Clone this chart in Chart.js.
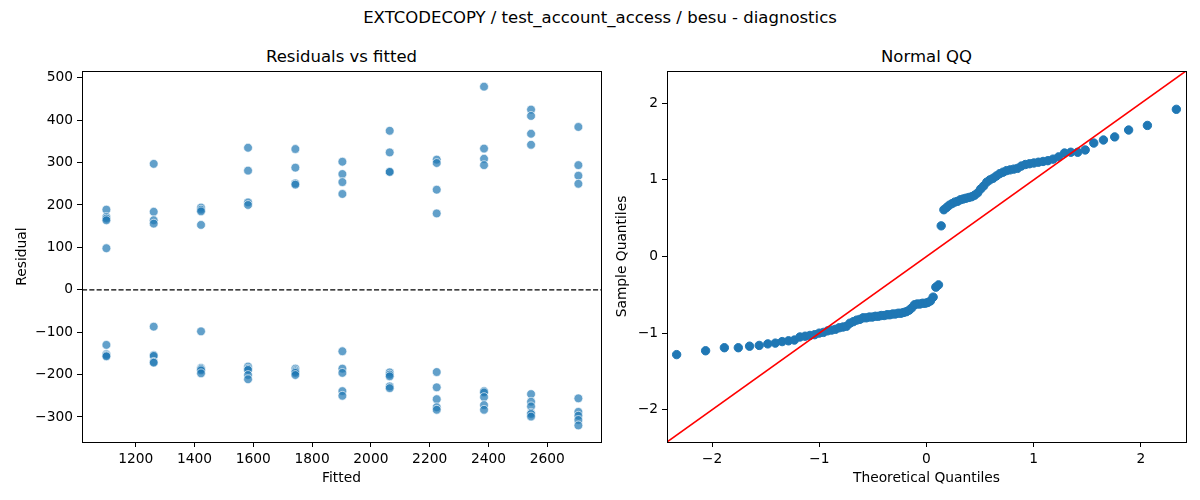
<!DOCTYPE html>
<html>
<head>
<meta charset="utf-8">
<script src="https://cdn.jsdelivr.net/npm/chart.js@4.4.1/dist/chart.umd.min.js"></script>
<style>
  html, body { margin: 0; padding: 0; background: #fff; }
  body { width: 1200px; height: 500px; position: relative; overflow: hidden; font-family: "DejaVu Sans", sans-serif; }
  .box { position: absolute; }
  .ttl { position: absolute; text-align: center; color: #000; white-space: nowrap; line-height: 20px; }
</style>
</head>
<body>
<div class="ttl" id="suptitle" style="left:0; width:1200px; top:8px; font-size:16.5px;"></div>
<div class="ttl" id="title1" style="left:82px; width:519px; top:47px; font-size:16.5px;"></div>
<div class="ttl" id="title2" style="left:667px; width:519px; top:47px; font-size:16.5px;"></div>
<div class="box" style="left:0; top:0; width:610px; height:500px;"><canvas id="c1"></canvas></div>
<div class="box" style="left:610px; top:0; width:590px; height:500px;"><canvas id="c2"></canvas></div>
<script>
// ---------- data ----------
const figureTitle = "EXTCODECOPY / test_account_access / besu - diagnostics";
const leftTitle = "Residuals vs fitted";
const rightTitle = "Normal QQ";

const fittedLevels = [1100, 1261, 1422, 1582, 1743, 1903, 2064, 2224, 2385, 2545, 2706];
const residualsByLevel = [
  [189, 172, 168, 164, 98, -130, -152, -155, -157],
  [297, 184, 164, 156, -87, -154, -156, -170, -172],
  [194, 189, 185, 153, -98, -184, -187, -190, -197],
  [335, 281, 206, 200, -181, -186, -189, -201, -211],
  [332, 288, 251, 248, -186, -190, -193, -196, -201],
  [302, 273, 254, 226, -145, -186, -196, -239, -250],
  [375, 324, 278, 278, -195, -200, -204, -228, -232],
  [307, 299, 236, 180, -194, -230, -258, -277, -283],
  [479, 333, 309, 294, -239, -242, -253, -272, -283],
  [425, 410, 368, 342, -246, -264, -275, -290, -293, -299],
  [384, 294, 269, 250, -256, -288, -297, -307, -320]
];
const fittedTicks = [1200, 1400, 1600, 1800, 2000, 2200, 2400, 2600];
const residualTicks = [-300, -200, -100, 0, 100, 200, 300, 400, 500];

const theoreticalQuantiles = [
  -2.33, -2.06, -1.885, -1.755, -1.65, -1.56, -1.48, -1.41, -1.346, -1.287,
  -1.232, -1.18, -1.132, -1.087, -1.043, -1.001, -0.961, -0.922, -0.885, -0.849,
  -0.814, -0.779, -0.746, -0.714, -0.682, -0.651, -0.621, -0.591, -0.562, -0.533,
  -0.505, -0.477, -0.449, -0.422, -0.395, -0.368, -0.342, -0.316, -0.290, -0.264,
  -0.238, -0.213, -0.188, -0.162, -0.137, -0.112, -0.087, -0.062, -0.037, -0.012,
  0.012, 0.037, 0.062, 0.087, 0.112, 0.137, 0.162, 0.188, 0.213, 0.238,
  0.264, 0.290, 0.316, 0.342, 0.368, 0.395, 0.422, 0.449, 0.477, 0.505,
  0.533, 0.562, 0.591, 0.621, 0.651, 0.682, 0.714, 0.746, 0.779, 0.814,
  0.849, 0.885, 0.922, 0.961, 1.001, 1.043, 1.087, 1.132, 1.18, 1.232,
  1.287, 1.346, 1.41, 1.48, 1.56, 1.65, 1.755, 1.885, 2.06, 2.33
];
const sampleQuantiles = [
  -1.28, -1.23, -1.19, -1.19, -1.17, -1.16, -1.14, -1.13, -1.11, -1.10,
  -1.09, -1.05, -1.04, -1.03, -1.02, -1.00, -0.99, -0.97, -0.96, -0.95,
  -0.93, -0.92, -0.91, -0.87, -0.85, -0.83, -0.82, -0.80, -0.80, -0.79,
  -0.79, -0.78, -0.78, -0.77, -0.77, -0.76, -0.76, -0.75, -0.75, -0.74,
  -0.74, -0.73, -0.72, -0.70, -0.67, -0.63, -0.62, -0.62, -0.61, -0.61,
  -0.60, -0.58, -0.53, -0.40, -0.37, 0.40, 0.61, 0.64, 0.67, 0.69,
  0.71, 0.72, 0.74, 0.75, 0.76, 0.77, 0.78, 0.80, 0.83, 0.88,
  0.92, 0.97, 1.00, 1.02, 1.05, 1.08, 1.10, 1.12, 1.13, 1.14,
  1.15, 1.18, 1.20, 1.21, 1.22, 1.23, 1.24, 1.25, 1.27, 1.30,
  1.35, 1.36, 1.36, 1.39, 1.48, 1.52, 1.56, 1.65, 1.71, 1.92
];
const qqLimits = [-2.42, 2.42];
const qqTicks = [-2, -1, 0, 1, 2];

// ---------- rendering ----------
document.getElementById('suptitle').textContent = figureTitle;
document.getElementById('title1').textContent = leftTitle;
document.getElementById('title2').textContent = rightTitle;

const FONT = "'DejaVu Sans', sans-serif";
Chart.defaults.font.family = FONT;
Chart.defaults.color = '#000';

const framePlugin = {
  id: 'frame',
  afterDatasetsDraw(chart, args, opts) {
    const { ctx, chartArea: a } = chart;
    ctx.save();
    if (opts.zeroLine) {
      const y = chart.scales.y.getPixelForValue(0);
      ctx.strokeStyle = '#000';
      ctx.lineWidth = 1.2;
      ctx.setLineDash([5.1, 2.2]);
      ctx.beginPath();
      ctx.moveTo(a.left, y);
      ctx.lineTo(a.right, y);
      ctx.stroke();
      ctx.setLineDash([]);
    }
    ctx.strokeStyle = '#000';
    ctx.lineWidth = 1;
    ctx.strokeRect(Math.round(a.left) + 0.5, Math.round(a.top) + 0.5,
                   Math.round(a.right - a.left), Math.round(a.bottom - a.top));
    ctx.restore();
  }
};

function axisCommon(tickValues, fixedSize, isX, titleText, titlePad) {
  return {
    type: 'linear',
    position: isX ? 'bottom' : 'left',
    afterBuildTicks: (s) => { s.ticks = tickValues.map(v => ({ value: v })); },
    afterFit: (s) => { if (isX) s.height = fixedSize; else s.width = fixedSize; },
    grid: { display: true, drawOnChartArea: false, drawTicks: true, tickLength: 5, tickColor: '#000', lineWidth: 1 },
    border: { display: false },
    ticks: {
      padding: 4, color: '#000', font: { size: 13.8, family: FONT },
      maxRotation: 0, autoSkip: false, includeBounds: false,
      callback: (v) => (v < 0 ? '\u2212' + Math.abs(v) : String(v))
    },
    title: {
      display: true, text: titleText, color: '#000', font: { size: 13.8, family: FONT },
      padding: isX ? { top: 0, bottom: titlePad } : { top: titlePad, bottom: 0 }
    }
  };
}

// Left: residuals vs fitted
const scatterPoints = [];
fittedLevels.forEach((f, i) => residualsByLevel[i].forEach(r => scatterPoints.push({ x: f, y: r })));

new Chart(document.getElementById('c1'), {
  type: 'scatter',
  data: {
    datasets: [{
      data: scatterPoints,
      backgroundColor: 'rgba(31,119,180,0.7)',
      borderColor: 'rgba(255,255,255,0.8)',
      borderWidth: 0.8,
      pointRadius: 4.4,
      pointHoverRadius: 4.4
    }]
  },
  options: {
    responsive: true, maintainAspectRatio: false, animation: false, devicePixelRatio: 1,
    layout: { padding: { top: 71, right: 9, left: 0, bottom: 0 } },
    plugins: { legend: { display: false }, tooltip: { enabled: false }, frame: { zeroLine: true } },
    scales: {
      x: Object.assign(axisCommon(fittedTicks, 58, true, 'Fitted', 13), { min: 1017, max: 2783 }),
      y: Object.assign(axisCommon(residualTicks, 82, false, 'Residual', 14), { min: -359, max: 516 })
    }
  },
  plugins: [framePlugin]
});

// Right: normal QQ
const qqPoints = theoreticalQuantiles.map((t, i) => ({ x: t, y: sampleQuantiles[i] }));
const refLine = qqLimits.map(v => ({ x: v, y: v }));

new Chart(document.getElementById('c2'), {
  type: 'scatter',
  data: {
    datasets: [
      {
        data: qqPoints,
        backgroundColor: '#1f77b4',
        borderColor: '#1f77b4',
        borderWidth: 1,
        pointRadius: 4.2,
        pointHoverRadius: 4.2,
        order: 2
      },
      {
        type: 'line',
        data: refLine,
        borderColor: '#ff0000',
        borderWidth: 1.6,
        pointRadius: 0,
        fill: false,
        order: 1
      }
    ]
  },
  options: {
    responsive: true, maintainAspectRatio: false, animation: false, devicePixelRatio: 1,
    layout: { padding: { top: 71, right: 14, left: 0, bottom: 0 } },
    plugins: { legend: { display: false }, tooltip: { enabled: false }, frame: { zeroLine: false } },
    scales: {
      x: Object.assign(axisCommon(qqTicks, 58, true, 'Theoretical Quantiles', 13), { min: qqLimits[0], max: qqLimits[1] }),
      y: Object.assign(axisCommon(qqTicks, 57, false, 'Sample Quantiles', 4), { min: qqLimits[0], max: qqLimits[1] })
    }
  },
  plugins: [framePlugin]
});
</script>
</body>
</html>
